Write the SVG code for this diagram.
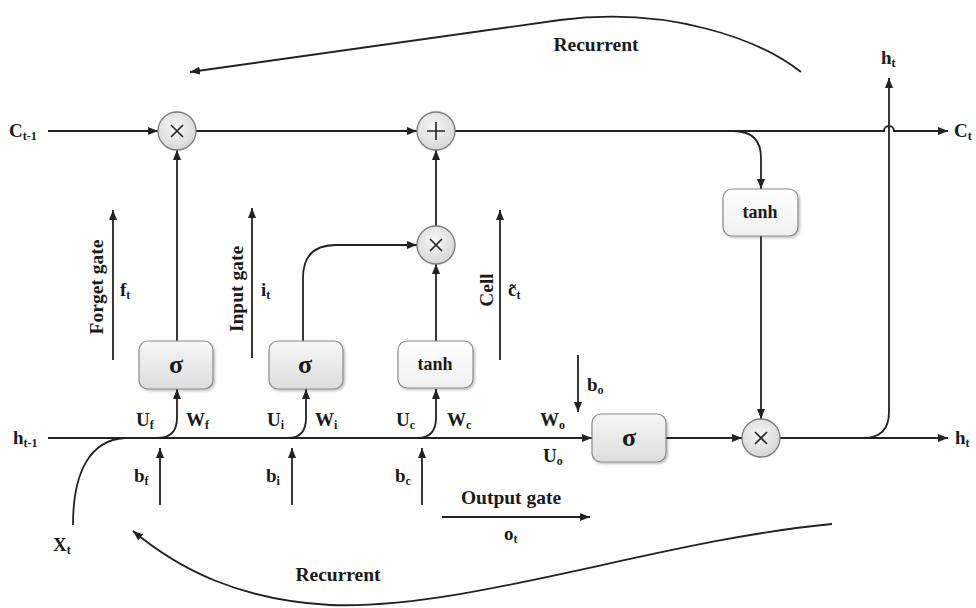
<svg xmlns="http://www.w3.org/2000/svg" width="976" height="608" viewBox="0 0 976 608">
<style>
.ln{fill:none;stroke:#222;stroke-width:1.8}
.ar{marker-end:url(#ah)}
.t{font-family:"Liberation Serif","Times New Roman",serif;font-weight:bold;fill:#1a1a1a}
.m{font-size:19px}
.s{font-size:12px}
.lab{font-size:19.5px}
.box{fill:url(#gb);stroke:#8a8a8a;stroke-width:1.2;filter:url(#sh)}
.wbox{fill:url(#gw);stroke:#8a8a8a;stroke-width:1.2;filter:url(#sh)}
.circ{fill:url(#gc);stroke:#7a7a7a;stroke-width:1.3}
.op{stroke:#222;stroke-width:1.6;fill:none}
</style>
<defs>
<marker id="ah" viewBox="0 0 10 8" refX="10" refY="4" markerWidth="10" markerHeight="8" markerUnits="userSpaceOnUse" orient="auto">
<path d="M0,0 L10,4 L0,8 z" fill="#222"/>
</marker>
<linearGradient id="gb" x1="0" y1="0" x2="0" y2="1"><stop offset="0" stop-color="#f6f6f6"/><stop offset="1" stop-color="#dedede"/></linearGradient>
<linearGradient id="gw" x1="0" y1="0" x2="0" y2="1"><stop offset="0" stop-color="#ffffff"/><stop offset="1" stop-color="#f0f0f0"/></linearGradient>
<radialGradient id="gc" cx="0.45" cy="0.4" r="0.6"><stop offset="0" stop-color="#f8f8f8"/><stop offset="1" stop-color="#d6d6d6"/></radialGradient>
<filter id="sh" x="-10%" y="-10%" width="125%" height="130%"><feDropShadow dx="1.5" dy="1.5" stdDeviation="1" flood-color="#000" flood-opacity="0.25"/></filter>
</defs>

<g id="connectors">
<path class="ln ar" d="M48,131 H158"/>
<path class="ln ar" d="M196,131 H417"/>
<path class="ln ar" d="M455,131 H884 A5,5 0 0 1 894,131 H948"/>
<path class="ln ar" d="M733,131 Q761,131 761,158 V189"/>
<path class="ln ar" d="M177,341 V150"/>
<path class="ln ar" d="M303,341 V278 Q303,245 336,245 H417"/>
<path class="ln ar" d="M436,341 V264"/>
<path class="ln ar" d="M436,226 V150"/>
<path class="ln ar" d="M48,438 H592"/>
<path class="ln" d="M73,525 C73,472 90,440 125,438"/>
<path class="ln ar" d="M157,438 Q177,438 177,418 V389"/>
<path class="ln ar" d="M288,438 Q306,438 306,418 V389"/>
<path class="ln ar" d="M417,438 Q436,438 436,418 V389"/>
<path class="ln ar" d="M160,505 V448"/>
<path class="ln ar" d="M292,505 V448"/>
<path class="ln ar" d="M422,505 V448"/>
<path class="ln ar" d="M578,355 V412"/>
<path class="ln ar" d="M666,438 H742"/>
<path class="ln ar" d="M761,236 V419"/>
<path class="ln ar" d="M780,438 H948"/>
<path class="ln ar" d="M863,438 Q889,438 889,412 V78"/>
<path class="ln ar" d="M113,360 V210"/>
<path class="ln ar" d="M252,358 V208"/>
<path class="ln ar" d="M500,360 V210"/>
<path class="ln ar" d="M442,517 H590"/>
<path class="ln ar" d="M801,72 C760,40 671,6 560,20 L190,72"/>
<path class="ln ar" d="M832,524 C660,540 470,610 330,605 C240,600 180,570 133,531"/>
</g>

<g id="forget_mul"><circle class="circ" cx="177" cy="131" r="19"/><path class="op" d="M171,125 L183,137 M183,125 L171,137"/></g>
<g id="cell_add"><circle class="circ" cx="436" cy="131" r="19"/><path class="op" d="M427,131 H445 M436,122 V140"/></g>
<g id="input_mul"><circle class="circ" cx="436" cy="245" r="19"/><path class="op" d="M430,239 L442,251 M442,239 L430,251"/></g>
<g id="output_mul"><circle class="circ" cx="761" cy="438" r="19"/><path class="op" d="M755,432 L767,444 M767,432 L755,444"/></g>

<g id="forget_sigma"><rect class="box" x="139" y="341" width="74" height="48" rx="9"/><text class="t" x="176" y="373" font-size="26" text-anchor="middle">σ</text></g>
<g id="input_sigma"><rect class="box" x="269" y="341" width="74" height="48" rx="9"/><text class="t" x="305" y="373" font-size="26" text-anchor="middle">σ</text></g>
<g id="cell_tanh"><rect class="wbox" x="398" y="341" width="75" height="47" rx="9"/><text class="t" x="435" y="370" font-size="18" text-anchor="middle">tanh</text></g>
<g id="output_sigma"><rect class="box" x="592" y="414" width="74" height="48" rx="9"/><text class="t" x="629" y="446" font-size="26" text-anchor="middle">σ</text></g>
<g id="out_tanh"><rect class="wbox" x="723" y="189" width="75" height="47" rx="9"/><text class="t" x="760" y="218" font-size="18" text-anchor="middle">tanh</text></g>

<g id="labels">
<text class="t m" x="9" y="137">C<tspan class="s" dy="3">t-1</tspan></text>
<text class="t m" x="954" y="137">C<tspan class="s" dy="3">t</tspan></text>
<text class="t m" x="13" y="444">h<tspan class="s" dy="3">t-1</tspan></text>
<text class="t m" x="955" y="444">h<tspan class="s" dy="3">t</tspan></text>
<text class="t m" x="881" y="64">h<tspan class="s" dy="3">t</tspan></text>
<text class="t m" x="53" y="551">X<tspan class="s" dy="3">t</tspan></text>
<text class="t lab" x="596" y="51" text-anchor="middle">Recurrent</text>
<text class="t lab" x="338" y="581" text-anchor="middle">Recurrent</text>
<text class="t m" x="136" y="426">U<tspan class="s" dy="3">f</tspan></text>
<text class="t m" x="186" y="426">W<tspan class="s" dy="3">f</tspan></text>
<text class="t m" x="267" y="426">U<tspan class="s" dy="3">i</tspan></text>
<text class="t m" x="315" y="426">W<tspan class="s" dy="3">i</tspan></text>
<text class="t m" x="396" y="426">U<tspan class="s" dy="3">c</tspan></text>
<text class="t m" x="447" y="426">W<tspan class="s" dy="3">c</tspan></text>
<text class="t m" x="540" y="426">W<tspan class="s" dy="3">o</tspan></text>
<text class="t m" x="543" y="462">U<tspan class="s" dy="3">o</tspan></text>
<text class="t m" x="134" y="482">b<tspan class="s" dy="3">f</tspan></text>
<text class="t m" x="266" y="482">b<tspan class="s" dy="3">i</tspan></text>
<text class="t m" x="395" y="482">b<tspan class="s" dy="3">c</tspan></text>
<text class="t m" x="587" y="391">b<tspan class="s" dy="3">o</tspan></text>
<text class="t lab" x="511" y="504" text-anchor="middle">Output gate</text>
<text class="t m" x="504" y="540">o<tspan class="s" dy="3">t</tspan></text>
<text class="t lab" transform="translate(103,287) rotate(-90)" text-anchor="middle">Forget gate</text>
<text class="t lab" transform="translate(243,289) rotate(-90)" text-anchor="middle">Input gate</text>
<text class="t lab" transform="translate(493,290) rotate(-90)" text-anchor="middle">Cell</text>
<text class="t m" x="120" y="296">f<tspan class="s" dy="3">t</tspan></text>
<text class="t m" x="261" y="296">i<tspan class="s" dy="3">t</tspan></text>
<text class="t m" x="508" y="296">c&#771;<tspan class="s" dy="3">t</tspan></text>
</g>
</svg>
